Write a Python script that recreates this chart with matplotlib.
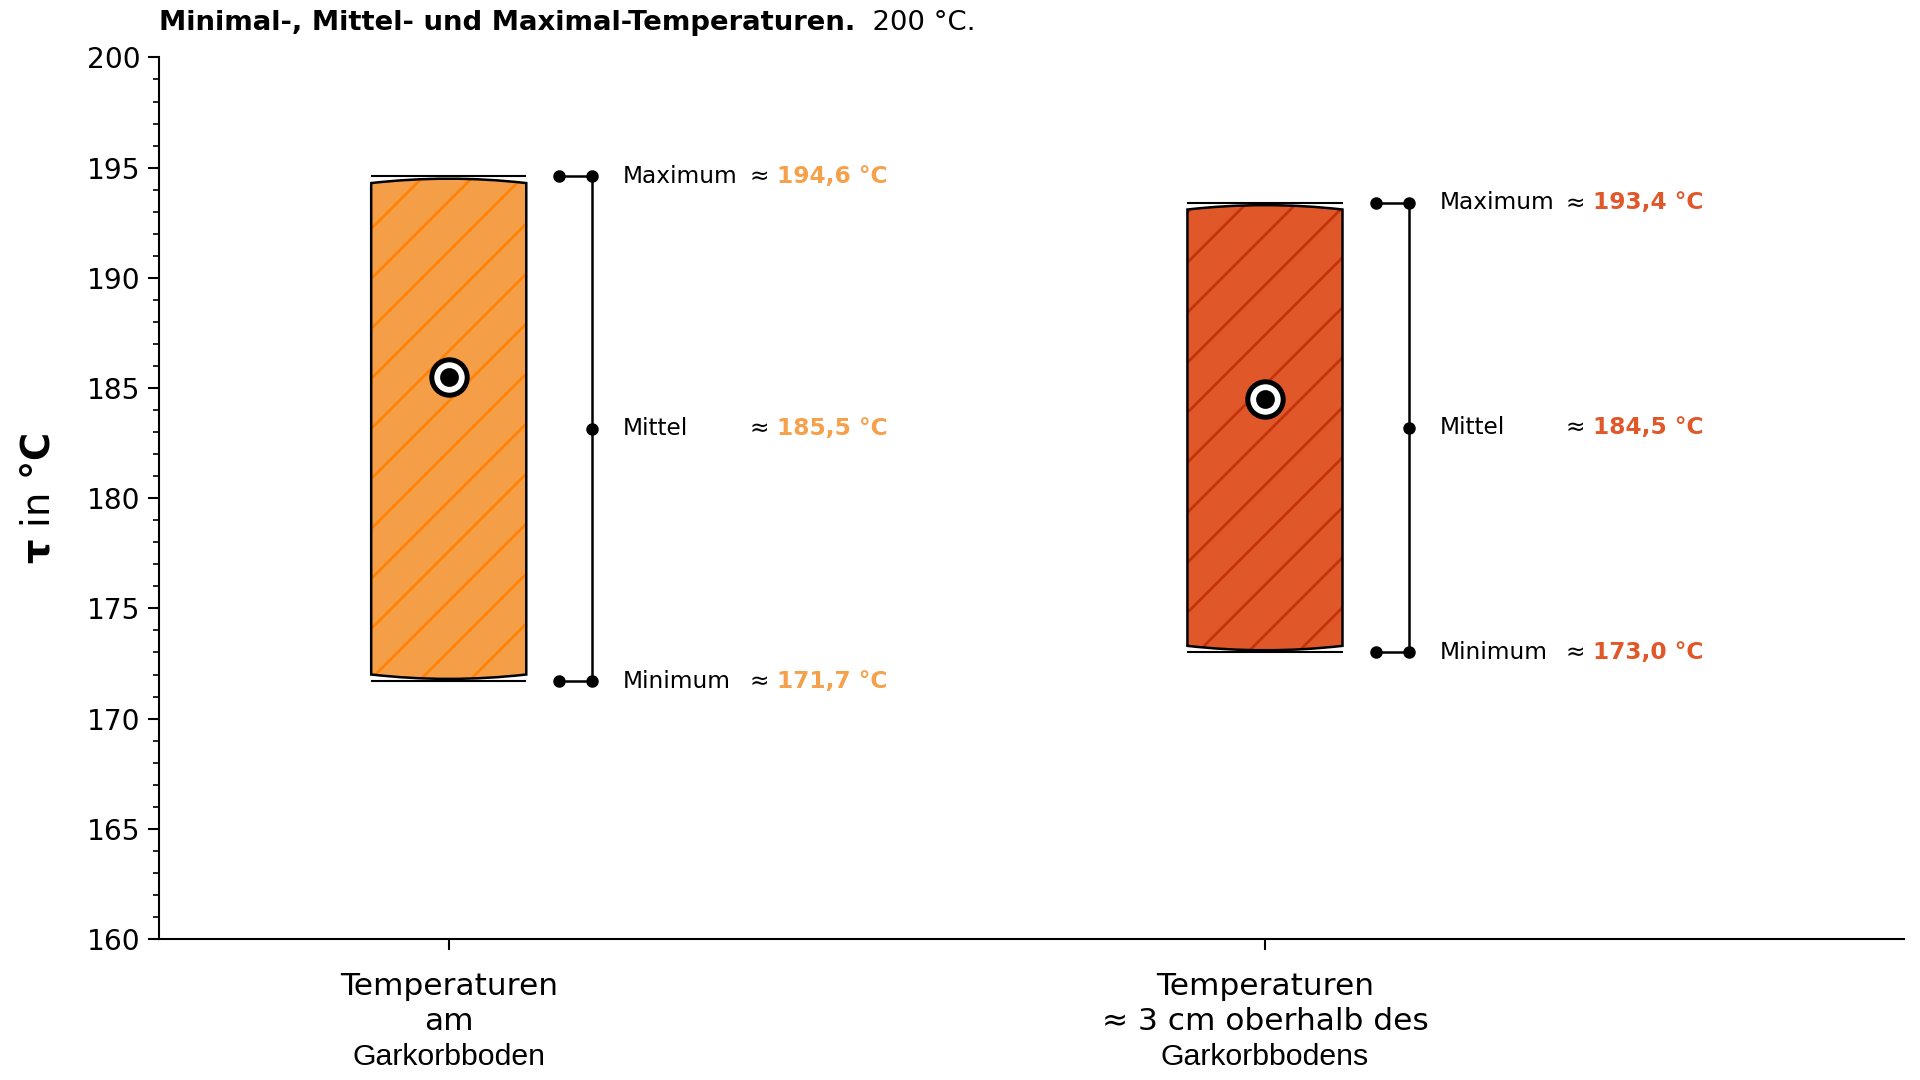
import matplotlib
matplotlib.use("Agg")
import matplotlib.pyplot as plt
from matplotlib.path import Path
from matplotlib.patches import PathPatch
from matplotlib.ticker import MultipleLocator
import numpy as np

# data
groups = ["Temperaturen\nam", "Temperaturen\n≈ 3 cm oberhalb des"]
groups_last = ["Garkorbboden", "Garkorbbodens"]
t_min = [171.7, 173.0]
t_mean = [185.5, 184.5]
t_max = [194.6, 193.4]
fill_colors = ["#F59E48", "#E0582A"]
hatch_colors = ["#FF8205", "#C3320A"]
text_colors = ["#F5A04A", "#E0582A"]


def fmt(v):
    return f"{v:.1f}".replace(".", ",") + " °C"


def cylinder(xc, lo, hi, w, d=0.3, bulge=0.2):
    x0, x1 = xc - w / 2, xc + w / 2
    verts = [(x0, lo + d), (x0, hi - d),
             (xc, hi - d + 2 * bulge), (x1, hi - d),
             (x1, lo + d),
             (xc, lo + d - 2 * bulge), (x0, lo + d),
             (x0, lo + d)]
    codes = [Path.MOVETO, Path.LINETO,
             Path.CURVE3, Path.CURVE3,
             Path.LINETO,
             Path.CURVE3, Path.CURVE3,
             Path.CLOSEPOLY]
    return Path(verts, codes)


plt.rcParams['hatch.linewidth'] = 1.3
fig = plt.figure(figsize=(12.8, 7.2), dpi=150)
ax = fig.add_axes([0.0828, 0.1306, 0.9089, 0.8162])

w = 0.19
xs = np.arange(len(t_min))
for i, x in enumerate(xs):
    p = cylinder(x, t_min[i], t_max[i], w)
    ax.add_patch(PathPatch(p, facecolor=fill_colors[i], edgecolor=hatch_colors[i],
                           hatch='/', linewidth=0, zorder=2))
    ax.add_patch(PathPatch(p, facecolor='none', edgecolor='black', linewidth=1.2, zorder=3))
    ax.hlines([t_min[i], t_max[i]], x - w / 2, x + w / 2, color='black', lw=1.0, zorder=3)

    # mean marker
    ax.plot(x, t_mean[i], 'o', ms=17, mfc='white', mec='black', mew=2.4, zorder=4)
    ax.plot(x, t_mean[i], 'o', ms=8, color='black', zorder=5)

    # bracket
    bx = x + 0.176
    dx = x + 0.1355
    mid = (t_min[i] + t_max[i]) / 2
    ax.plot([bx, bx], [t_min[i], t_max[i]], color='black', lw=1.2, zorder=3)
    for yv in (t_min[i], t_max[i]):
        ax.plot([dx, bx], [yv, yv], color='black', lw=1.2, zorder=3)
        ax.plot([dx, bx], [yv, yv], 'o', ms=5, color='black', zorder=4)
    ax.plot(bx, mid, 'o', ms=5, color='black', zorder=4)

    for name, yv, val in (("Maximum", t_max[i], t_max[i]),
                          ("Mittel", mid, t_mean[i]),
                          ("Minimum", t_min[i], t_min[i])):
        ax.text(x + 0.2136, yv, name, fontsize=11.2, va='center', ha='left')
        ax.text(x + 0.368, yv, "≈", fontsize=11.2, va='center', ha='left')
        ax.text(x + 0.402, yv, fmt(val), fontsize=11.2, va='center', ha='left',
                fontweight='bold', color=text_colors[i])

ax.set_xlim(-0.355, 1.783)
ax.set_ylim(160, 200)
ax.yaxis.set_major_locator(MultipleLocator(5))
ax.yaxis.set_minor_locator(MultipleLocator(1))
ax.tick_params(axis='y', which='major', length=5.3, width=1.0, labelsize=13.5)
ax.tick_params(axis='y', which='minor', length=2.9, width=0.8)
ax.set_xticks(xs)
ax.set_xticklabels(groups, fontsize=15, multialignment='center', linespacing=1.25)
ax.tick_params(axis='x', length=5.3, width=1.0, pad=10.5)
for i, x in enumerate(xs):
    ax.annotate(groups_last[i], xy=(x, 0), xycoords=('data', 'axes fraction'),
                xytext=(0, -56.5), textcoords='offset points', ha='center', va='center',
                fontsize=14.5, family='Liberation Sans')

for s in ('top', 'right'):
    ax.spines[s].set_visible(False)
for s in ('left', 'bottom'):
    ax.spines[s].set_linewidth(1.0)

ax.set_ylabel(r"$\mathbf{\tau}$ in $\mathbf{°C}$", fontsize=18.5)
ax.yaxis.set_label_coords(-0.058, 0.5)

t1 = ax.text(0.0, 1.024, "Minimal-, Mittel- und Maximal-Temperaturen.", transform=ax.transAxes,
             fontsize=13.2, fontweight='bold', ha='left', va='bottom')
ax.annotate("  200 °C.", xy=(1, 0), xycoords=t1, va='bottom', ha='left', fontsize=13.2)

fig.savefig("out.png", dpi=150)
